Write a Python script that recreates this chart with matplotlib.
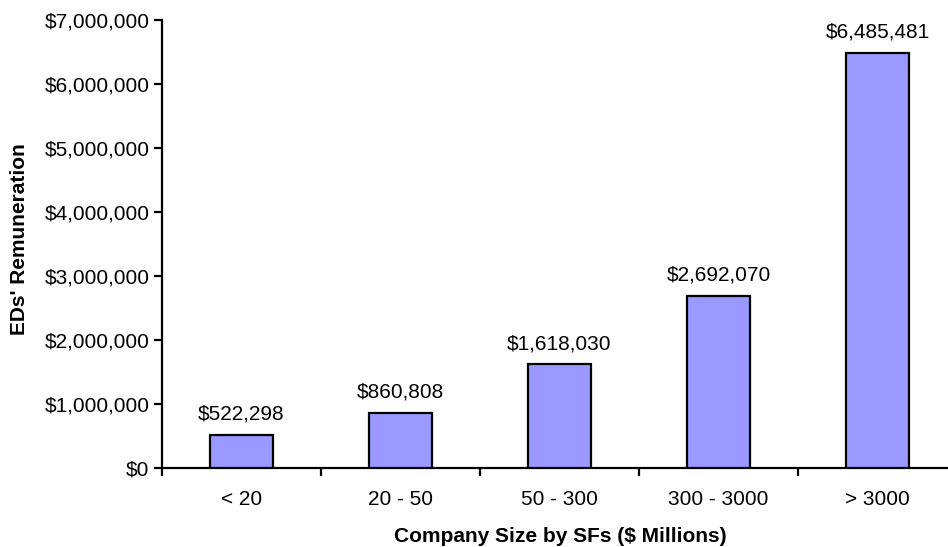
import matplotlib
matplotlib.use("Agg")
import matplotlib.pyplot as plt
from matplotlib.ticker import FuncFormatter

categories = ["< 20", "20 - 50", "50 - 300", "300 - 3000", "> 3000"]
values = [522298, 860808, 1618030, 2692070, 6485481]

plt.rcParams['font.family'] = ['Liberation Sans', 'DejaVu Sans']

W, H = 948, 547
fig = plt.figure(figsize=(W / 100, H / 100), dpi=100)
left, right, top, bottom = 162, 957, 20, 468
aw, ah = right - left, bottom - top
ax = fig.add_axes([left / W, 1 - bottom / H, aw / W, ah / H])

x = list(range(len(categories)))
ax.bar(x, values, width=0.4, color="#9999FF", edgecolor="black", linewidth=1.6, zorder=3)

for xi, v in zip(x, values):
    ax.annotate(f"${v:,.0f}", (xi, v), xytext=(0, 8), textcoords="offset points",
                ha="center", va="bottom", fontsize=15)

ax.set_xlim(-0.5, len(categories) - 0.5)
ax.set_ylim(0, 7000000)
ax.set_yticks(range(0, 7000001, 1000000))
ax.yaxis.set_major_formatter(FuncFormatter(lambda v, p: f"${v:,.0f}"))
ax.set_xticks([i + 0.5 for i in range(-1, len(categories))])
ax.set_xticklabels([])
ax.set_xticks(x, minor=True)
ax.set_xticklabels(categories, minor=True)
ax.tick_params(axis="x", which="minor", length=0, pad=16, labelsize=15)
ax.tick_params(axis="x", which="major", length=6, width=1.6, direction="out")
ax.tick_params(axis="y", length=6, width=1.6, direction="out", labelsize=15, pad=3)

for s in ["top", "right"]:
    ax.spines[s].set_visible(False)
for s in ["left", "bottom"]:
    ax.spines[s].set_linewidth(1.6)

ax.set_xlabel("Company Size by SFs ($ Millions)", fontsize=15, fontweight="bold")
ax.set_ylabel("EDs' Remuneration", fontsize=15, fontweight="bold")
ax.xaxis.set_label_coords((560 - left) / aw, -(527 - bottom) / ah)
ax.yaxis.set_label_coords(-(162 - 10) / aw, (bottom - 239) / ah)
ax.yaxis.label.set_va("top")

fig.savefig("out.png", dpi=100)
